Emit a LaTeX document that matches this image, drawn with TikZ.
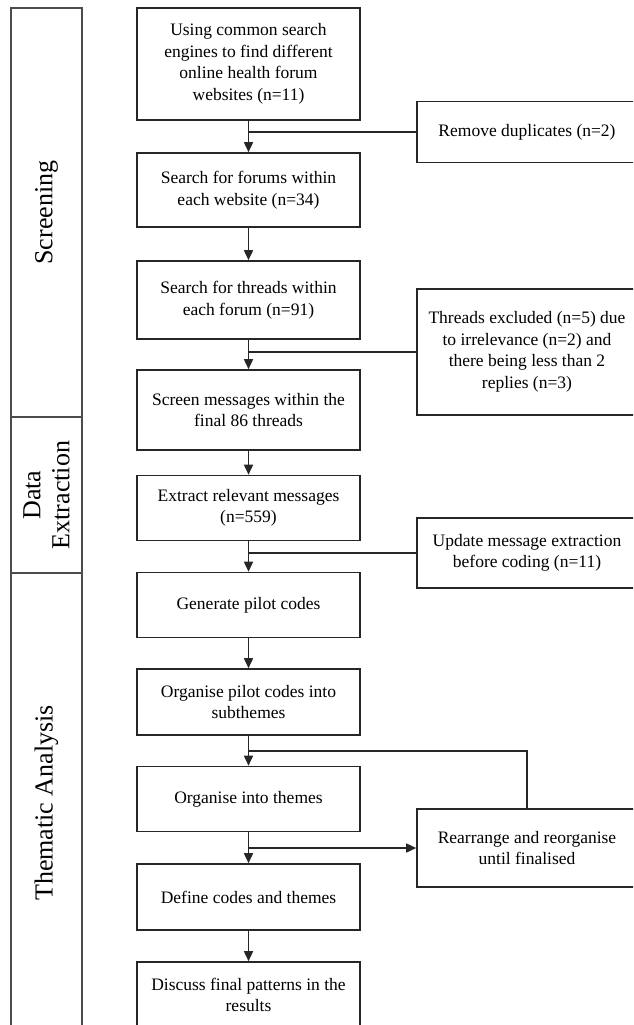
\documentclass[tikz,border=0pt]{standalone}
\usepackage{fontspec}
\setmainfont{Liberation Serif}
\usetikzlibrary{arrows.meta,calc}

\begin{document}
\begin{tikzpicture}[x=1pt, y=-1pt,
    box/.style={draw=black!85, line width=1.6pt, minimum width=223pt,
      align=center, inner sep=2pt, font=\fontsize{17.5}{21.5}\selectfont},
    sidebox/.style={box, minimum width=220pt},
    phase/.style={draw=black!70, line width=1.6pt, rotate=90, minimum height=71pt,
      align=center, inner sep=0pt, font=\fontsize{26}{29}\selectfont},
    line/.style={draw=black!85, line width=1.6pt},
    arrow/.style={line, -{Triangle[length=10pt,width=9pt]}}]
  \clip (0,0) rectangle (633,1025);
  \fill[white] (0,0) rectangle (633,1025);

  %% Phases (left column)
  \node[phase, minimum width=409pt] (scr) at (46.5,212.5) {Screening};
  \node[phase, minimum width=156pt] (dex) at (46.5,495) {Data\\Extraction};
  \node[phase, minimum width=460pt] (tha) at (46.5,803) {Thematic Analysis};

  %% Main steps
  \node[box, minimum height=112pt] (search) at (248.5,64)
    {Using common search\\engines to find different\\online health forum\\websites (n=11)};
  \node[box, minimum height=74pt] (forums) at (248.5,190)
    {Search for forums within\\each website (n=34)};
  \node[box, minimum height=78pt] (threads) at (248.5,300)
    {Search for threads within\\each forum (n=91)};
  \node[box, minimum height=80pt] (screen) at (248.5,410)
    {Screen messages within the\\final 86 threads};
  \node[box, minimum height=65pt] (extract) at (248.5,508)
    {Extract relevant messages\\(n=559)};
  \node[box, minimum height=65pt] (pilot) at (248.5,605)
    {Generate pilot codes};
  \node[box, minimum height=66pt] (subthemes) at (248.5,702)
    {Organise pilot codes into\\subthemes};
  \node[box, minimum height=65pt] (themes) at (248.5,799)
    {Organise into themes};
  \node[box, minimum height=66pt] (define) at (248.5,897)
    {Define codes and themes};
  \node[box, minimum height=66pt] (discuss) at (248.5,995)
    {Discuss final patterns in the\\results};

  %% Side steps
  \node[sidebox, minimum height=61pt] (dups) at (527,132)
    {Remove duplicates (n=2)};
  \node[sidebox, minimum height=126pt] (excl) at (527,352)
    {Threads excluded (n=5) due\\to irrelevance (n=2) and\\there being less than 2\\replies (n=3)};
  \node[sidebox, minimum height=70pt] (update) at (527,553)
    {Update message extraction\\before coding (n=11)};
  \node[sidebox, minimum height=78pt] (rearrange) at (527,848)
    {Rearrange and reorganise\\until finalised};

  %% Flow
  \draw[arrow] (search) -- (forums);
  \draw[arrow] (forums) -- (threads);
  \draw[arrow] (threads) -- (screen);
  \draw[arrow] (screen) -- (extract);
  \draw[arrow] (extract) -- (pilot);
  \draw[arrow] (pilot) -- (subthemes);
  \draw[arrow] (subthemes) -- (themes);
  \draw[arrow] (themes) -- (define);
  \draw[arrow] (define) -- (discuss);

  %% Side joins
  \draw[line] (dups.west) -- (dups.west -| search.south);
  \draw[line] (excl.west) -- (excl.west -| threads.south);
  \draw[line] (update.west) -- (update.west -| extract.south);
  \draw[line] (rearrange.north) |- ($(subthemes.south)!0.5!(themes.north)$);
  \draw[arrow] (themes.south |- rearrange.west) -- (rearrange.west);
\end{tikzpicture}
\end{document}
